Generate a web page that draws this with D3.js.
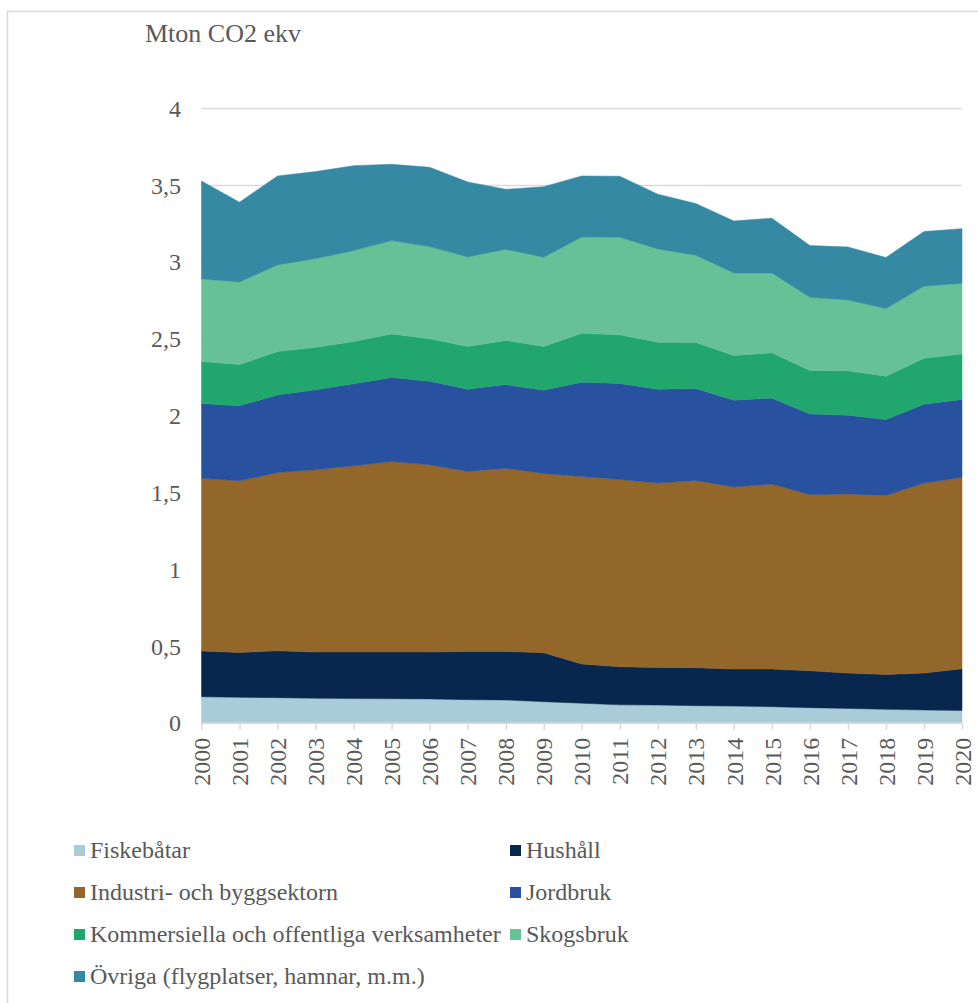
<!DOCTYPE html>
<html>
<head>
<meta charset="utf-8">
<script src="https://cdn.jsdelivr.net/npm/d3@7"></script>
<style>
  html, body { margin: 0; padding: 0; background: #fff; }
  svg { display: block; }
  text { font-family: "Liberation Serif", "Times New Roman", serif; fill: #595959; }
</style>
</head>
<body>
<svg id="chart" width="978" height="1003"></svg>
<script>
// Emissions per sector, Mton CO2-ekv, 2000–2020
const years = d3.range(2000, 2021);

const fiskebatar = [0.169, 0.165, 0.163, 0.159, 0.157, 0.156, 0.155, 0.150, 0.148, 0.137, 0.127,
                    0.116, 0.115, 0.111, 0.108, 0.104, 0.098, 0.093, 0.087, 0.083, 0.079];
const hushall    = [0.297, 0.292, 0.305, 0.301, 0.303, 0.304, 0.305, 0.314, 0.316, 0.318, 0.255,
                    0.248, 0.245, 0.247, 0.241, 0.245, 0.240, 0.230, 0.227, 0.240, 0.272];
const industri   = [1.125, 1.117, 1.160, 1.186, 1.212, 1.240, 1.218, 1.171, 1.192, 1.167, 1.220,
                    1.219, 1.199, 1.218, 1.184, 1.204, 1.145, 1.166, 1.165, 1.236, 1.245];
const jordbruk   = [0.486, 0.488, 0.505, 0.520, 0.533, 0.547, 0.544, 0.535, 0.544, 0.542, 0.614,
                    0.624, 0.611, 0.598, 0.566, 0.559, 0.525, 0.512, 0.494, 0.514, 0.507];
const kommersiella = [0.273, 0.269, 0.282, 0.277, 0.275, 0.283, 0.276, 0.278, 0.287, 0.284, 0.318,
                    0.317, 0.306, 0.300, 0.290, 0.295, 0.284, 0.289, 0.282, 0.299, 0.297];
const skogsbruk  = [0.538, 0.537, 0.564, 0.577, 0.592, 0.607, 0.600, 0.583, 0.594, 0.581, 0.627,
                    0.635, 0.607, 0.568, 0.538, 0.520, 0.476, 0.461, 0.440, 0.468, 0.460];
const ovriga     = [0.637, 0.519, 0.579, 0.566, 0.553, 0.497, 0.516, 0.488, 0.390, 0.459, 0.397,
                    0.397, 0.356, 0.336, 0.338, 0.356, 0.337, 0.345, 0.332, 0.356, 0.355];

const seriesNames = [
  "Fiskebåtar",
  "Hushåll",
  "Industri- och byggsektorn",
  "Jordbruk",
  "Kommersiella och offentliga verksamheter",
  "Skogsbruk",
  "Övriga (flygplatser, hamnar, m.m.)"
];
const seriesValues = [fiskebatar, hushall, industri, jordbruk, kommersiella, skogsbruk, ovriga];
const colors = ["#a8cdd8", "#08274e", "#93662a", "#2851a0", "#21a66d", "#67c196", "#3589a2"];

const yTicks = [0, 0.5, 1, 1.5, 2, 2.5, 3, 3.5, 4];
const yTitle = "Mton CO2 ekv";

const rows = years.map((y, i) => {
  const r = { year: y };
  seriesNames.forEach((n, k) => { r[n] = seriesValues[k][i]; });
  return r;
});

const svg = d3.select("#chart");

// outer frame
svg.append("rect")
  .attr("x", 7.5).attr("y", 11.5)
  .attr("width", 1000).attr("height", 1000)
  .attr("fill", "none").attr("stroke", "#d9d9d9").attr("stroke-width", 1.5);

const x = d3.scaleLinear().domain([2000, 2020]).range([201.5, 962]);
const y = d3.scaleLinear().domain([0, 4]).range([722.7, 108]);

// horizontal gridlines
svg.append("g")
  .selectAll("line")
  .data(yTicks.slice(1))
  .join("line")
  .attr("x1", x(2000)).attr("x2", x(2020))
  .attr("y1", d => Math.round(y(d)) + 0.5).attr("y2", d => Math.round(y(d)) + 0.5)
  .attr("stroke", "#d9d9d9").attr("stroke-width", 1.5);

// stacked areas
const stack = d3.stack().keys(seriesNames);
const layers = stack(rows);
const area = d3.area()
  .x(d => x(d.data.year))
  .y0(d => y(d[0]))
  .y1(d => y(d[1]));

svg.append("g")
  .selectAll("path")
  .data(layers)
  .join("path")
  .attr("d", area)
  .attr("fill", (d, i) => colors[i])
  .attr("stroke", (d, i) => colors[i])
  .attr("stroke-width", 0.5);

// y axis labels
const yAxis = d3.axisLeft(y)
  .tickValues(yTicks)
  .tickSize(0)
  .tickPadding(0)
  .tickFormat(d => String(d).replace(".", ","));
const yg = svg.append("g").attr("transform", "translate(181,0)").call(yAxis);
yg.select(".domain").remove();
yg.selectAll("text")
  .attr("font-size", 24)
  .attr("font-family", "Liberation Serif, Times New Roman, serif")
  .attr("fill", "#595959")
  .attr("dy", "0.34em");

// x axis
const xAxis = d3.axisBottom(x)
  .tickValues(years)
  .tickSize(7)
  .tickFormat(d3.format("d"));
const xg = svg.append("g").attr("transform", `translate(0,${y(0)})`).call(xAxis);
xg.select(".domain").attr("stroke", "#d9d9d9").attr("stroke-width", 1.5)
  .attr("d", `M${x(2000)},0.5H${x(2020)}`);
xg.selectAll(".tick line").attr("stroke", "#d9d9d9").attr("stroke-width", 1.5);
xg.selectAll(".tick text")
  .attr("font-size", 24)
  .attr("font-family", "Liberation Serif, Times New Roman, serif")
  .attr("fill", "#595959")
  .attr("transform", "rotate(-90)")
  .attr("text-anchor", "end")
  .attr("x", -15)
  .attr("y", 0)
  .attr("dy", "0.34em");

// axis title
svg.append("text")
  .attr("x", 145).attr("y", 42)
  .attr("font-size", 26)
  .text(yTitle);

// legend
const legendPos = [
  [74, 858], [510, 858],
  [74, 900], [510, 900],
  [74, 942], [510, 942],
  [74, 984]
];
const lg = svg.append("g");
seriesNames.forEach((n, i) => {
  const [lx, ly] = legendPos[i];
  lg.append("rect")
    .attr("x", lx).attr("y", ly - 13)
    .attr("width", 11).attr("height", 11)
    .attr("fill", colors[i]);
  lg.append("text")
    .attr("x", lx + 16).attr("y", ly)
    .attr("font-size", 24)
    .text(n);
});
</script>
</body>
</html>
